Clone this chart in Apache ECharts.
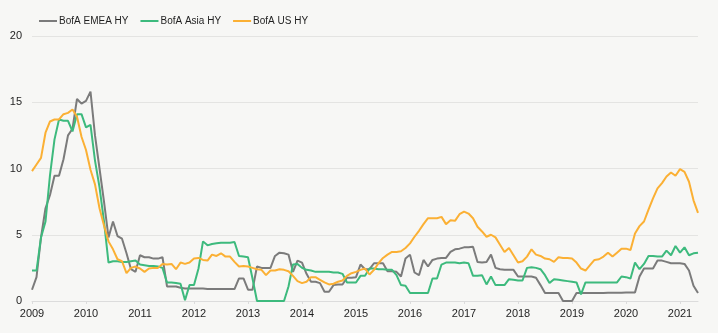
<!DOCTYPE html>
<html>
<head>
<meta charset="utf-8">
<script src="https://cdn.jsdelivr.net/npm/echarts@6/dist/echarts.min.js"></script>
<style>
  html, body { margin: 0; padding: 0; background: #f7f7f5; }
  #chart { width: 718px; height: 333px; }
</style>
</head>
<body>
<div id="chart"></div>
<script>
// Monthly high-yield series, Jan 2009 to May 2021
const startYear = 2009;
const monthCount = 149;
const yearTicks = ['2009', '2010', '2011', '2012', '2013', '2014', '2015', '2016', '2017', '2018', '2019', '2020', '2021'];
const seriesNames = ['BofA EMEA HY', 'BofA Asia HY', 'BofA US HY'];

const emeaHY = [
  0.85, 1.8, 4.8, 7.0, 8.0, 9.45, 9.45, 10.7, 12.5, 13.0, 15.25, 14.9,
  15.1, 15.8, 12.5, 10.0, 7.5, 4.8, 6.0, 4.9, 4.7, 3.6, 2.4, 2.2,
  3.45, 3.3, 3.3, 3.2, 3.2, 3.3, 1.1, 1.1, 1.1, 1.0, 0.95, 0.95,
  0.95, 0.95, 0.95, 0.9, 0.9, 0.9, 0.9, 0.9, 0.9, 0.9, 1.7, 1.7,
  0.85, 0.85, 2.6, 2.5, 2.5, 2.5, 3.4, 3.65, 3.6, 3.5, 2.2, 3.05,
  2.9, 2.05, 1.45, 1.45, 1.35, 0.7, 0.7, 1.2, 1.25, 1.25, 1.75, 1.75,
  1.8, 2.75, 2.4, 2.4, 2.85, 2.85, 2.85, 2.25, 2.25, 2.2, 1.85, 3.2,
  3.5, 2.15, 1.95, 3.1, 2.6, 3.1, 3.2, 3.25, 3.25, 3.7, 3.9, 3.95,
  4.05, 4.05, 4.1, 2.95, 2.9, 2.95, 3.5, 2.5, 2.4, 2.35, 2.35, 2.35,
  1.85, 1.85, 1.85, 1.85, 1.75, 1.2, 0.6, 0.6, 0.6, 0.6, 0.0, 0.0,
  0.0, 0.6, 0.6, 0.6, 0.6, 0.6, 0.6, 0.6, 0.62, 0.62, 0.62, 0.62,
  0.65, 0.65, 0.65, 1.85, 2.45, 2.45, 2.45, 3.05, 3.05, 2.95, 2.85, 2.85,
  2.85, 2.8, 2.3, 1.15, 0.6
];

const asiaHY = [
  2.3, 2.3, 4.8, 6.0, 9.5, 12.2, 13.7, 13.6, 13.6, 12.8, 14.1, 14.1,
  13.1, 13.3, 10.6, 8.6, 6.0, 2.9, 3.0, 3.0, 2.95, 2.95, 3.0, 3.05,
  2.75, 2.7, 2.65, 2.65, 2.6, 2.5, 1.4, 1.4, 1.35, 1.3, 0.05, 1.2,
  1.2, 2.45, 4.5, 4.2, 4.3, 4.35, 4.4, 4.4, 4.4, 4.45, 3.4, 3.35,
  3.3, 1.7, 0.0, 0.0, 0.0, 0.0, 0.0, 0.0, 0.0, 1.1, 2.75, 2.8,
  2.5, 2.35, 2.3, 2.2, 2.2, 2.2, 2.2, 2.15, 2.15, 2.05, 1.4, 1.4,
  1.4, 1.9, 1.9, 2.45, 2.45, 2.4, 2.4, 2.35, 2.35, 1.95, 1.2, 1.15,
  0.6, 0.6, 0.6, 0.6, 0.6, 1.7, 1.7, 2.75, 2.9, 2.9, 2.9, 2.85,
  2.9, 2.85, 1.9, 1.9, 1.95, 1.25, 1.85, 1.2, 1.2, 1.2, 1.65, 1.6,
  1.55, 1.55, 2.5, 2.55, 2.5, 2.4, 1.95, 1.35, 1.65, 1.6, 1.55, 1.5,
  1.45, 1.4, 0.5, 1.4, 1.4, 1.4, 1.4, 1.4, 1.4, 1.4, 1.4, 1.85,
  1.8, 1.7, 2.9, 2.4, 2.8, 3.4, 3.4, 3.35, 3.35, 3.8, 3.45, 4.15,
  3.65, 4.05, 3.45, 3.6, 3.65
];

const usHY = [
  9.8, 10.3, 10.8, 12.7, 13.55, 13.7, 13.7, 14.1, 14.2, 14.45, 13.9, 12.4,
  11.4, 9.9, 8.8, 7.0, 5.7, 4.5, 3.9, 3.15, 3.0, 2.1, 2.5, 2.6,
  2.45, 2.2, 2.45, 2.5, 2.5, 2.8, 2.75, 2.8, 2.4, 2.9, 2.8, 2.9,
  3.2, 3.25, 3.1, 3.05, 3.5, 3.4, 3.6, 3.35, 3.35, 2.95, 2.6, 2.65,
  2.6, 2.5, 2.4, 2.35, 1.95, 2.3, 2.3, 2.4, 2.35, 2.25, 1.9, 1.5,
  1.35, 1.45, 1.8, 1.8, 1.6, 1.4, 1.25, 1.3, 1.45, 1.55, 1.9, 2.1,
  2.2, 2.35, 2.45, 2.0, 2.35, 2.85, 3.25, 3.5, 3.7, 3.7, 3.75, 4.0,
  4.35, 4.85, 5.3, 5.8, 6.25, 6.25, 6.25, 6.35, 5.8, 6.1, 6.05, 6.55,
  6.75, 6.6, 6.25, 5.6, 5.25, 4.85, 5.0, 4.8, 4.25, 3.7, 4.0, 3.45,
  2.9, 3.0, 3.35, 3.9, 3.5, 3.4, 3.2, 3.15, 2.95, 3.3, 3.25, 3.25,
  3.2, 2.9, 2.45, 2.3, 2.7, 3.1, 3.15, 3.35, 3.65, 3.35, 3.65, 3.95,
  3.95, 3.85, 5.1, 5.65, 6.0, 6.9, 7.75, 8.5, 8.9, 9.4, 9.7, 9.45,
  9.95, 9.75, 9.0, 7.6, 6.65
];

// Month labels "YYYY-MM"
const months = [];
for (let i = 0; i < monthCount; i++) {
  const y = startYear + Math.floor(i / 12);
  const m = (i % 12) + 1;
  months.push(y + '-' + (m < 10 ? '0' + m : m));
}

const colors = ['#7b7b7b', '#3dba7d', '#fbb034'];
const seriesData = [emeaHY, asiaHY, usHY];

const chart = echarts.init(document.getElementById('chart'), null, { renderer: 'canvas' });

const isYearStart = function (idx) { return idx % 12 === 0; };

chart.setOption({
  backgroundColor: '#f7f7f5',
  animation: false,
  color: colors,
  textStyle: { fontFamily: 'Liberation Sans, Arial, sans-serif' },
  legend: {
    left: 34,
    top: 11,
    icon: 'rect',
    itemWidth: 18,
    itemHeight: 2,
    itemGap: 12,
    textStyle: { fontSize: 10, color: '#1f1f1f', padding: [0, 0, 0, -3] },
    data: seriesNames
  },
  grid: { left: 32, right: 20, top: 36, bottom: 32, containLabel: false },
  xAxis: {
    type: 'category',
    boundaryGap: false,
    data: months,
    axisLine: { lineStyle: { color: '#dcdcdc', width: 1 } },
    axisTick: { show: true, interval: isYearStart, length: 3, lineStyle: { color: '#dcdcdc' } },
    axisLabel: {
      interval: isYearStart,
      fontSize: 11,
      color: '#1f1f1f',
      margin: 7,
      formatter: function (val) { return yearTicks[yearTicks.indexOf(val.slice(0, 4))]; }
    },
    splitLine: { show: false }
  },
  yAxis: {
    type: 'value',
    min: 0,
    max: 20,
    interval: 5,
    axisLine: { show: false },
    axisTick: { show: false },
    axisLabel: { fontSize: 11, color: '#1f1f1f', margin: 10 },
    splitLine: { lineStyle: { color: '#e4e4e2', width: 1 } }
  },
  series: seriesNames.map(function (name, i) {
    return {
      name: name,
      type: 'line',
      data: seriesData[i],
      symbol: 'none',
      lineStyle: { width: 2, color: colors[i] },
      itemStyle: { color: colors[i] },
      z: 2
    };
  })
});
</script>
</body>
</html>
